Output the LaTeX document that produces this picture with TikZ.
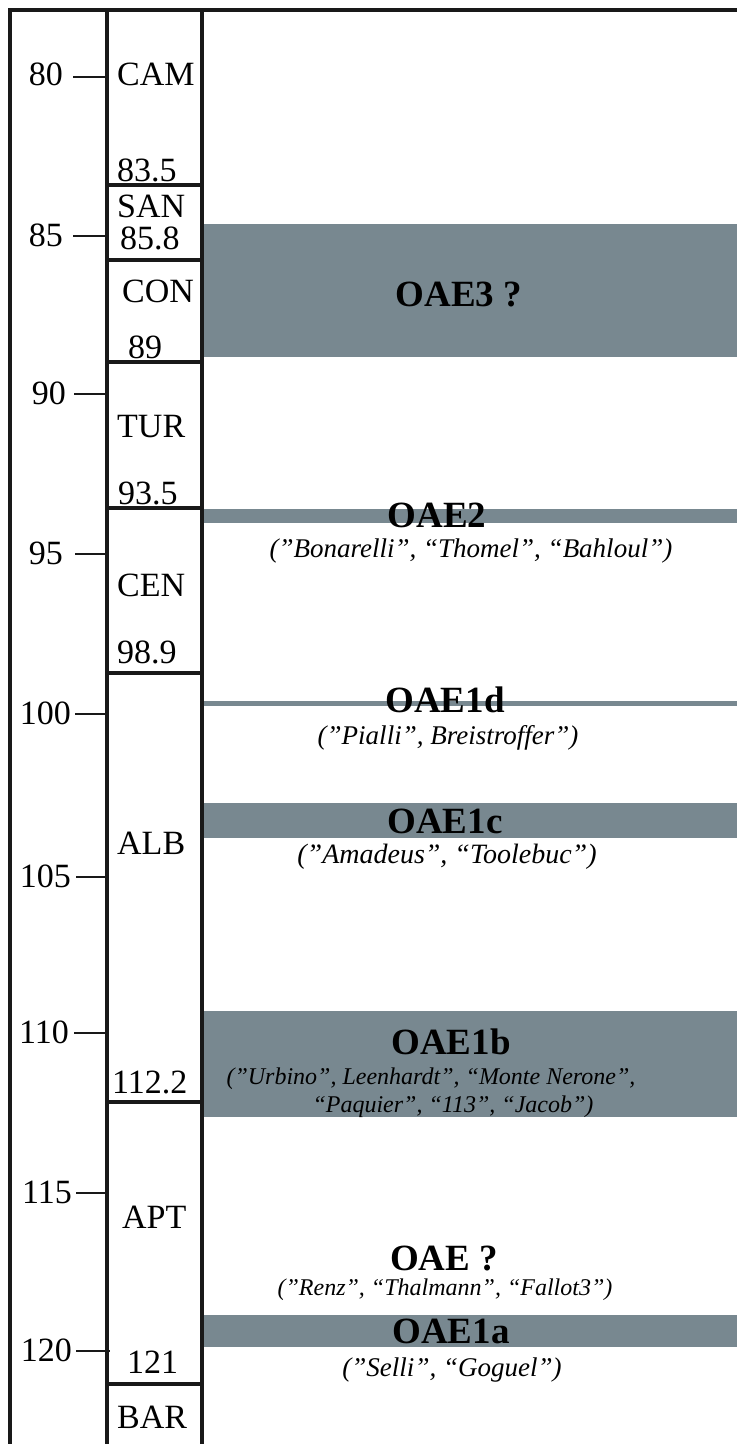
\documentclass[tikz,border=0pt]{standalone}
\usepackage{fontspec}
\setmainfont{Liberation Serif}
\usepackage{tikz}

\definecolor{oaegray}{RGB}{120,136,144}

\tikzset{
  frame/.style={line width=3.2pt, black!90},
  tick/.style={line width=1.6pt, black!90},
  band/.style={fill=oaegray, draw=none},
  age/.style={anchor=east, inner sep=0pt, font=\fontsize{34}{40}\selectfont},
  stage/.style={anchor=west, inner sep=0pt, font=\fontsize{34}{40}\selectfont},
  oae/.style={inner sep=0pt, font=\fontsize{37}{42}\selectfont\bfseries},
  names/.style={inner sep=0pt, font=\fontsize{27}{32}\selectfont\itshape},
  smallnames/.style={names, font=\fontsize{24}{28}\selectfont\itshape}
}

\begin{document}
\begin{tikzpicture}[x=1pt,y=-1pt]
    \useasboundingbox (0,0) rectangle (737,1444);
    % anoxic events
    \fill[band] (202,224) rectangle (737,357);
    \fill[band] (202,509) rectangle (737,523);
    \fill[band] (202,701) rectangle (737,706);
    \fill[band] (202,803) rectangle (737,838);
    \fill[band] (202,1011) rectangle (737,1117);
    \fill[band] (202,1315) rectangle (737,1347);
    % frame
    \draw[frame] (10,1444) -- (10,10) -- (737,10);
    \draw[frame] (107,10) -- (107,1444);
    \draw[frame] (202,10) -- (202,1444);
    \draw[frame] (107,185) -- (202,185);
    \draw[frame] (107,260) -- (202,260);
    \draw[frame] (107,362) -- (202,362);
    \draw[frame] (107,508) -- (202,508);
    \draw[frame] (107,673) -- (202,673);
    \draw[frame] (107,1102) -- (202,1102);
    \draw[frame] (107,1384) -- (202,1384);
    % age scale
    \node[age] (m80) at (63,74) {80};
    \node[age] (m85) at (63,235) {85};
    \node[age] (m90) at (66,393) {90};
    \node[age] (m95) at (63,553) {95};
    \node[age] (m100) at (71,713) {100};
    \node[age] (m105) at (71,876) {105};
    \node[age] (m110) at (69,1032) {110};
    \node[age] (m115) at (72,1192) {115};
    \node[age] (m120) at (72,1350) {120};
    \draw[tick] (73,77) -- (107,77);
    \draw[tick] (73,236) -- (107,236);
    \draw[tick] (74,394) -- (107,394);
    \draw[tick] (75,554) -- (107,554);
    \draw[tick] (75,714) -- (107,714);
    \draw[tick] (76,877) -- (107,877);
    \draw[tick] (74,1033) -- (107,1033);
    \draw[tick] (76,1193) -- (107,1193);
    \draw[tick] (76,1351) -- (110,1351);
    % stages
    \node[stage] (cam) at (117,74) {CAM};
    \node[stage] (b835) at (117,170) {83.5};
    \node[stage] (san) at (117,206) {SAN};
    \node[stage] (b858) at (120,238) {85.8};
    \node[stage] (con) at (122,291) {CON};
    \node[stage] (b89) at (128,347) {89};
    \node[stage] (tur) at (117,427) {TUR};
    \node[stage] (b935) at (118,493) {93.5};
    \node[stage] (cen) at (117,585) {CEN};
    \node[stage] (b989) at (117,652) {98.9};
    \node[stage] (alb) at (117,843) {ALB};
    \node[stage] (b1122) at (112,1082) {112.2};
    \node[stage] (apt) at (122,1217) {APT};
    \node[stage] (b121) at (127,1362) {121};
    \node[stage] (bar) at (117,1417) {BAR};
    % events
    \node[oae] (oae3) at (459,295) {OAE3 ?};
    \node[oae] (oae2) at (437,515) {OAE2};
    \node[names] (n2) at (471,551) {(”Bonarelli”, “Thomel”, “Bahloul”)};
    \node[oae] (oae1d) at (445,700) {OAE1d};
    \node[names] (n1d) at (448,738) {(”Pialli”, Breistroffer”)};
    \node[oae] (oae1c) at (445,821) {OAE1c};
    \node[names, font=\fontsize{28}{32}\selectfont\itshape] (n1c) at (447,857) {(”Amadeus”, “Toolebuc”)};
    \node[oae] (oae1b) at (451,1042) {OAE1b};
    \node[smallnames] (n1b) at (431,1079) {(”Urbino”, Leenhardt”, “Monte Nerone”,};
    \node[smallnames] (n1bb) at (453,1107) {“Paquier”, “113”, “Jacob”)};
    \node[oae] (oaeq) at (444,1258) {OAE ?};
    \node[smallnames] (nq) at (445,1290) {(”Renz”, “Thalmann”, “Fallot3”)};
    \node[oae] (oae1a) at (451,1331) {OAE1a};
    \node[names] (n1a) at (452,1370) {(”Selli”, “Goguel”)};
  \end{tikzpicture}
\end{document}
